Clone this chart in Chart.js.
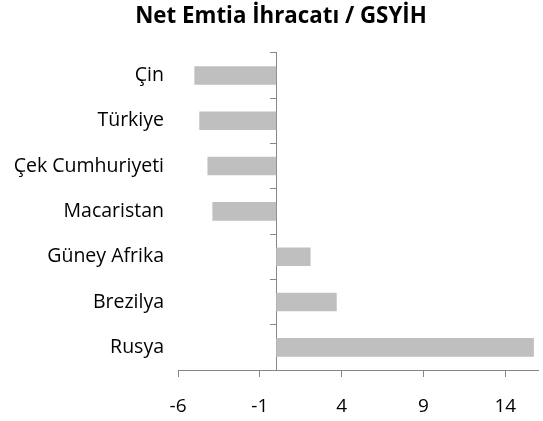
<!DOCTYPE html>
<html>
<head>
<meta charset="utf-8">
<script src="https://cdn.jsdelivr.net/npm/chart.js@4.4.1/dist/chart.umd.min.js"></script>
<style>
    html, body { margin: 0; padding: 0; background: #fff; overflow: hidden; }
    /* canvas runs a little past the right edge so the title centres like the original */
    #wrap { width: 562px; height: 421px; }
</style>
</head>
<body>
<div id="wrap"><canvas id="myChart"></canvas></div>
<script>
const CHART_TITLE = 'Net Emtia İhracatı / GSYİH';
const countries = ['Çin', 'Türkiye', 'Çek Cumhuriyeti', 'Macaristan', 'Güney Afrika', 'Brezilya', 'Rusya'];
const netExportsToGdp = [-5.0, -4.7, -4.2, -3.9, 2.1, 3.7, 15.75];
const xTickValues = [-6, -1, 4, 9, 14];
const X_MIN = -6;
const X_MAX = 16;

const AXIS_GREY = '#868686';
const BAR_GREY = '#bfbfbf';

Chart.defaults.font.family = '"Open Sans", sans-serif';
Chart.defaults.color = '#000';

const ctx = document.getElementById('myChart').getContext('2d');
const myChart = new Chart(ctx, {
    type: 'bar',
    data: {
        labels: countries,
        datasets: [{
            label: CHART_TITLE,
            data: netExportsToGdp,
            backgroundColor: BAR_GREY,
            borderWidth: 0,
            categoryPercentage: 1,
            barPercentage: 0.41,
            yAxisID: 'y'
        }]
    },
    options: {
        indexAxis: 'y',
        responsive: true,
        maintainAspectRatio: false,
        animation: false,
        layout: { padding: 0 },
        plugins: {
            legend: { display: false },
            tooltip: { enabled: false },
            title: {
                display: true,
                text: CHART_TITLE,
                color: '#000',
                font: { size: 22.3, weight: 'bold' },
                padding: { top: 3, bottom: 23 }
            }
        },
        scales: {
            x: {
                type: 'linear',
                position: 'bottom',
                min: X_MIN,
                max: X_MAX,
                afterBuildTicks: scale => {
                    scale.ticks = xTickValues.map(v => ({ value: v }));
                },
                afterFit: scale => { scale.height = 51; },
                border: { display: true, color: AXIS_GREY, width: 1 },
                grid: { drawOnChartArea: false, drawTicks: true, tickLength: 7, color: AXIS_GREY },
                ticks: { font: { size: 19 }, padding: 18, maxRotation: 0 }
            },
            // value axis line at x = 0, tick marks between categories
            y: {
                type: 'category',
                position: { x: 0 },
                offset: true,
                border: { display: true, color: AXIS_GREY, width: 1 },
                grid: { offset: true, drawOnChartArea: false, drawTicks: true, tickLength: 6, color: AXIS_GREY },
                ticks: { display: false }
            },
            // category labels at the left
            yl: {
                type: 'category',
                position: 'left',
                offset: true,
                afterFit: scale => { scale.width = 178; },
                border: { display: false },
                grid: { display: false, drawTicks: false },
                ticks: { font: { size: 19.5 }, padding: 14 }
            },
            // empty spacer on the right
            yr: {
                type: 'category',
                position: 'right',
                afterFit: scale => { scale.width = 24; },
                border: { display: false },
                grid: { display: false, drawTicks: false },
                ticks: { display: false }
            }
        }
    }
});
</script>
</body>
</html>
